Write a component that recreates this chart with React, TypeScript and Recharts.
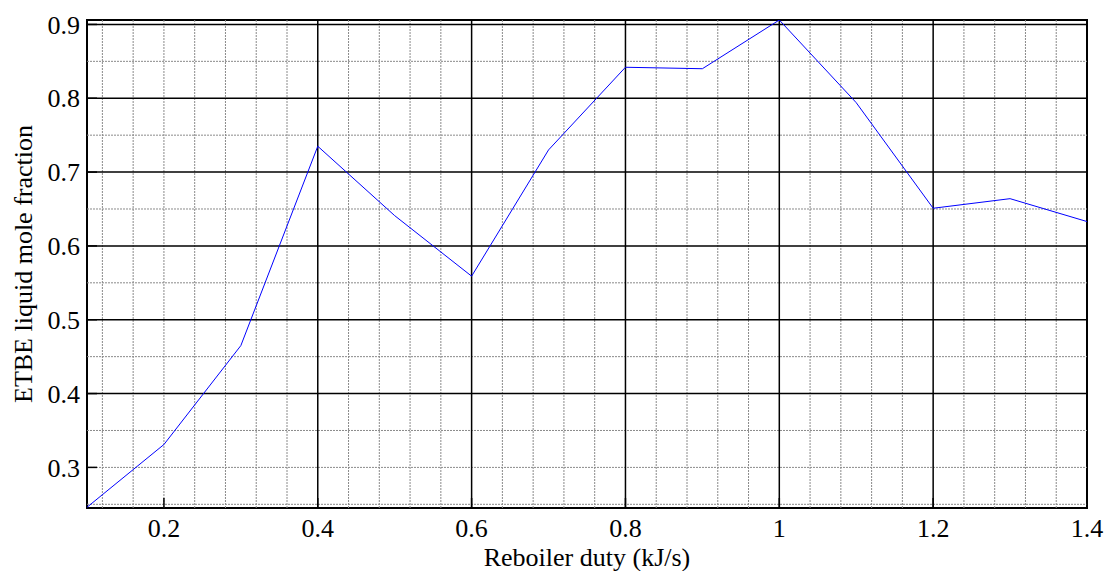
import React from "react";
import {
  LineChart,
  Line,
  XAxis,
  YAxis,
  ReferenceLine,
  ReferenceArea,
  Label,
} from "recharts";

// reboiler duty (kJ/s)
const dutyValues: number[] = [0.1, 0.2, 0.3, 0.4, 0.5, 0.6, 0.7, 0.8, 0.9, 1.0, 1.1, 1.2, 1.3, 1.4];
// ETBE liquid mole fraction
const etbeFraction: number[] = [0.246, 0.331, 0.465, 0.735, 0.641, 0.559, 0.73, 0.842, 0.84, 0.906, 0.794, 0.651, 0.664, 0.633];

const xTicks: number[] = [0.2, 0.4, 0.6, 0.8, 1, 1.2, 1.4];
const yTicks: number[] = [0.3, 0.4, 0.5, 0.6, 0.7, 0.8, 0.9];

// grid lines drawn solid black
const xMajorGrid: number[] = [0.4, 0.6, 0.8, 1, 1.2];
const yMajorGrid: number[] = [0.4, 0.5, 0.6, 0.7, 0.8, 0.9];
// dotted grid lines
const xMinorGrid: number[] = [
  0.12, 0.16, 0.2, 0.24, 0.28, 0.32, 0.36, 0.44, 0.48, 0.52, 0.56, 0.64, 0.68, 0.72, 0.76,
  0.84, 0.88, 0.92, 0.96, 1.04, 1.08, 1.12, 1.16, 1.24, 1.28, 1.32, 1.36,
];
const yMinorGrid: number[] = [0.25, 0.3, 0.35, 0.45, 0.55, 0.65, 0.75, 0.85];

const X_DOMAIN: [number, number] = [0.1, 1.4];
const Y_DOMAIN: [number, number] = [0.245, 0.906];

const data = dutyValues.map((x, i) => ({ x, y: etbeFraction[i] }));

const FONT = "'Liberation Serif', 'Times New Roman', serif";
const tickStyle = { fontSize: 26, fill: "#000", fontFamily: FONT };

const fmt = (v: number) => String(v);

const XTitle = (props: any) => {
  const vb = props.viewBox || { x: 87, y: 508, width: 1000, height: 63 };
  return (
    <text
      x={vb.x + vb.width / 2}
      y={vb.y + 58}
      textAnchor="middle"
      fontSize={26}
      fontFamily={FONT}
      fill="#000"
    >
      Reboiler duty (kJ/s)
    </text>
  );
};

const YTitle = (props: any) => {
  const vb = props.viewBox || { x: 0, y: 20, width: 87, height: 488 };
  const cx = 32;
  const cy = vb.y + vb.height / 2;
  return (
    <text
      x={cx}
      y={cy}
      transform={`rotate(-90, ${cx}, ${cy})`}
      textAnchor="middle"
      fontSize={26}
      fontFamily={FONT}
      fill="#000"
    >
      ETBE liquid mole fraction
    </text>
  );
};

const App: React.FC = () => {
  return (
    <div style={{ width: 1105, height: 571, fontFamily: FONT, overflow: "hidden" }}>
      <style>{"body { margin: 0; overflow: hidden; }"}</style>
      <LineChart
        width={1105}
        height={571}
        data={data}
        margin={{ top: 20, right: 18, bottom: 0, left: 0 }}
      >
        <XAxis
          xAxisId="b"
          dataKey="x"
          type="number"
          domain={X_DOMAIN}
          ticks={xTicks}
          tickFormatter={fmt}
          allowDataOverflow
          height={63}
          tick={tickStyle}
          tickSize={-10}
          tickMargin={21}
          tickLine={{ stroke: "#000", strokeWidth: 1.5 }}
          axisLine={false}
        >
          <Label content={<XTitle />} />
        </XAxis>
        <XAxis
          xAxisId="t"
          orientation="top"
          dataKey="x"
          type="number"
          domain={X_DOMAIN}
          ticks={xTicks}
          allowDataOverflow
          height={0}
          tick={false}
          tickSize={-10}
          tickLine={{ stroke: "#000", strokeWidth: 1.5 }}
          axisLine={false}
        />
        <YAxis
          yAxisId="l"
          type="number"
          domain={Y_DOMAIN}
          ticks={yTicks}
          tickFormatter={fmt}
          allowDataOverflow
          width={87}
          tick={tickStyle}
          tickSize={-10}
          tickMargin={17}
          tickLine={{ stroke: "#000", strokeWidth: 1.5 }}
          axisLine={false}
        >
          <Label content={<YTitle />} />
        </YAxis>
        <YAxis
          yAxisId="r"
          orientation="right"
          type="number"
          domain={Y_DOMAIN}
          ticks={yTicks}
          allowDataOverflow
          width={0}
          tick={false}
          tickSize={-10}
          tickLine={{ stroke: "#000", strokeWidth: 1.5 }}
          axisLine={false}
        />

        {xMinorGrid.map((v) => (
          <ReferenceLine
            key={`xm${v}`}
            xAxisId="b"
            yAxisId="l"
            x={v}
            stroke="#8a8a8a"
            strokeWidth={1}
            strokeDasharray="2 1"
          />
        ))}
        {yMinorGrid.map((v) => (
          <ReferenceLine
            key={`ym${v}`}
            xAxisId="b"
            yAxisId="l"
            y={v}
            stroke="#8a8a8a"
            strokeWidth={1}
            strokeDasharray="2 1"
          />
        ))}
        {xMajorGrid.map((v) => (
          <ReferenceLine key={`xM${v}`} xAxisId="b" yAxisId="l" x={v} stroke="#000" strokeWidth={1.5} />
        ))}
        {yMajorGrid.map((v) => (
          <ReferenceLine key={`yM${v}`} xAxisId="b" yAxisId="l" y={v} stroke="#000" strokeWidth={1.5} />
        ))}

        <ReferenceArea
          xAxisId="b"
          yAxisId="l"
          x1={X_DOMAIN[0]}
          x2={X_DOMAIN[1]}
          y1={Y_DOMAIN[0]}
          y2={Y_DOMAIN[1]}
          fill="none"
          fillOpacity={0}
          stroke="#000"
          strokeWidth={2}
        />

        <Line
          xAxisId="b"
          yAxisId="l"
          type="linear"
          dataKey="y"
          stroke="#0000ff"
          strokeWidth={1}
          dot={false}
          activeDot={false}
          isAnimationActive={false}
        />
      </LineChart>
    </div>
  );
};

export default App;
